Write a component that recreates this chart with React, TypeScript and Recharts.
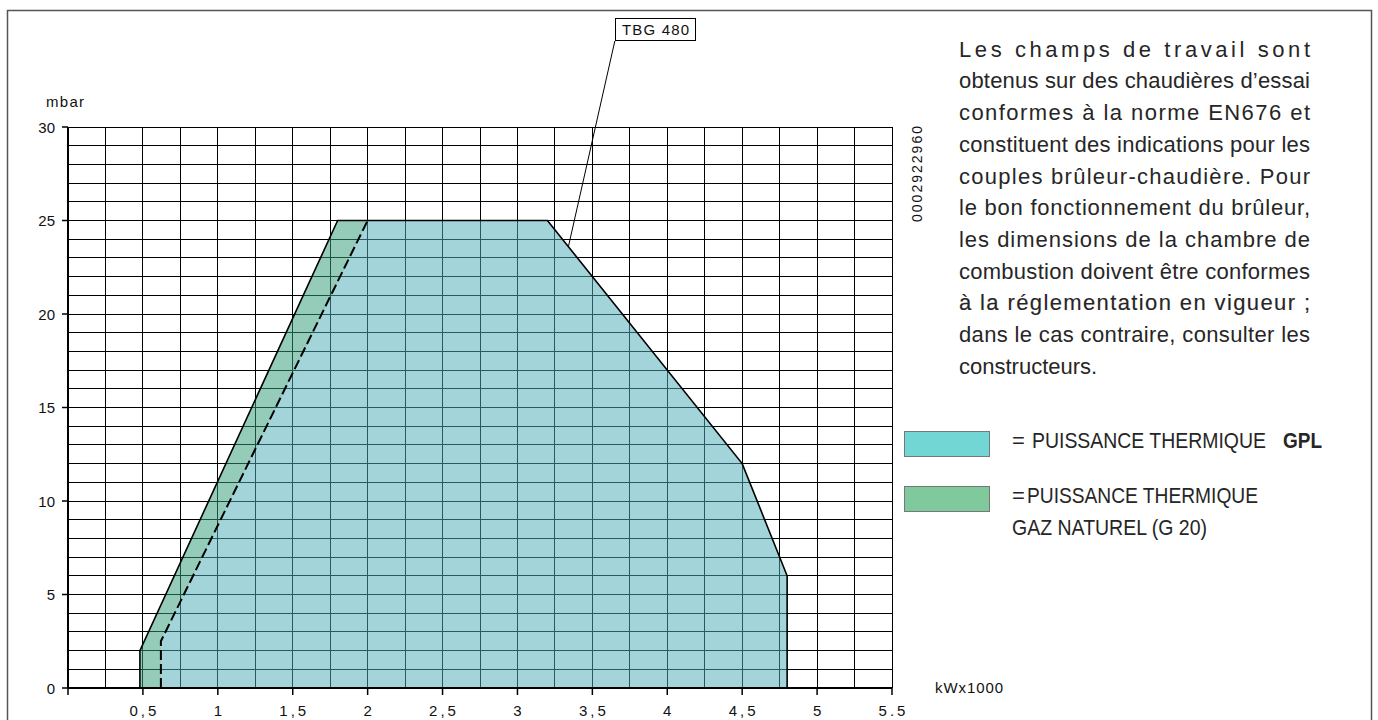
import React from 'react';
import {
    ComposedChart,
    Area,
    Line,
    XAxis,
    YAxis,
    CartesianGrid,
    ReferenceLine,
} from 'recharts';

// kW x 1000 / mbar
const xTicks = [0, 0.5, 1, 1.5, 2, 2.5, 3, 3.5, 4, 4.5, 5, 5.5];
const xTickLabels = ['', '0,5', '1', '1,5', '2', '2,5', '3', '3,5', '4', '4,5', '5', '5.5'];
const yTicks = [0, 5, 10, 15, 20, 25, 30];
const gridX = [0.25, 0.5, 0.75, 1, 1.25, 1.5, 1.75, 2, 2.25, 2.5, 2.75, 3, 3.25, 3.5, 3.75, 4, 4.25, 4.5, 4.75, 5, 5.25, 5.5];
const gridY = [1, 2, 3, 4, 5, 6, 7, 8, 9, 10, 11, 12, 13, 14, 15, 16, 17, 18, 19, 20, 21, 22, 23, 24, 25, 26, 27, 28, 29, 30];

// GPL field (cyan)
const gplX = [0.62, 0.62, 2.0, 3.2, 4.5, 4.8, 4.8];
const gplY = [0, 2.5, 25, 25, 12, 6, 0];

// natural gas G20 strip (green), between the left edge and the dashed line
const g20X = [0.48, 0.48, 0.62, 0.62, 1.8, 2.0];
const g20Low = [0, 0, 0, 2.5, 21.7, 25];
const g20High = [0, 2, 4.4, 4.4, 25, 25];

// outer solid contour
const outlineX = [0.48, 0.48, 1.8, 3.2, 4.5, 4.8, 4.8];
const outlineY = [0, 2, 25, 25, 12, 6, 0];

// TBG 480 leader
const leader = [{ x: 3.34, y: 23.6 }, { x: 3.65, y: 34.6 }];

const paragraph = [
    'Les champs de travail sont',
    'obtenus sur des chaudières d’essai',
    'conformes à la norme EN676 et',
    'constituent des indications pour les',
    'couples brûleur-chaudière. Pour',
    'le bon fonctionnement du brûleur,',
    'les dimensions de la chambre de',
    'combustion doivent être conformes',
    'à la réglementation en vigueur ;',
    'dans le cas contraire, consulter les',
    'constructeurs.',
];

const gplData = gplX.map((x, i) => ({ x, y: gplY[i] }));
const g20Data = g20X.map((x, i) => ({ x, r: [g20Low[i], g20High[i]] }));
const outlineData = outlineX.map((x, i) => ({ x, y: outlineY[i] }));
const dashedData = gplData.slice(0, 3);

const axisFont = "'Liberation Sans', Arial, sans-serif";
const textFont = "'Liberation Sans Narrow', 'Arial Narrow', 'Liberation Sans', sans-serif";

const XTick = (props: any) => {
    const { x, y, payload } = props;
    const label = xTickLabels[xTicks.indexOf(payload.value)] ?? '';
    return (
        <text x={x + 1.5} y={y + 19} textAnchor="middle" fontSize={15} fontFamily={axisFont} fill="#111" letterSpacing={3}>
            {label}
        </text>
    );
};

const YTick = (props: any) => {
    const { x, y, payload } = props;
    return (
        <text x={x - 5} y={y + 5.5} textAnchor="end" fontSize={15} fontFamily={axisFont} fill="#111">
            {payload.value}
        </text>
    );
};

// condensed legend text: squeezed horizontally to a given width
const Narrow = ({ x, y, w, sx = 0.85, bold = false, children }: any) => (
    <g transform={`translate(${x} ${y}) scale(${sx} 1)`}>
        <text x={0} y={0} fontSize={22} fontFamily={textFont} fontWeight={bold ? 'bold' : 'normal'} fill="#262626"
            textLength={w / sx} lengthAdjust="spacingAndGlyphs">
            {children}
        </text>
    </g>
);

export default function App() {
    return (
        <div style={{ position: 'absolute', left: 0, top: 0, width: 1378, height: 720, overflow: 'hidden', background: '#fff' }}>
            <ComposedChart width={1378} height={720} margin={{ top: 127, right: 486, bottom: 2, left: 8 }}>
                <CartesianGrid stroke="#000" strokeWidth={1} shapeRendering="crispEdges" horizontalValues={gridY} verticalValues={gridX} />
                <XAxis
                    type="number"
                    dataKey="x"
                    domain={[0, 5.5]}
                    ticks={xTicks}
                    interval={0}
                    height={30}
                    tickSize={7}
                    tickMargin={2}
                    tick={<XTick />}
                    axisLine={{ stroke: '#000', strokeWidth: 2 }}
                    tickLine={{ stroke: '#000', strokeWidth: 1.5 }}
                />
                <YAxis
                    type="number"
                    domain={[0, 30]}
                    ticks={yTicks}
                    interval={0}
                    width={60}
                    tickSize={6}
                    tickMargin={2}
                    tick={<YTick />}
                    axisLine={{ stroke: '#000', strokeWidth: 2 }}
                    tickLine={{ stroke: '#000', strokeWidth: 1.5 }}
                />
                <Area data={gplData} dataKey="y" type="linear" fill="#4dadb7" fillOpacity={0.52} stroke="none" dot={false} activeDot={false} isAnimationActive={false} />
                <Area data={g20Data} dataKey="r" type="linear" fill="#319d78" fillOpacity={0.52} stroke="none" dot={false} activeDot={false} isAnimationActive={false} />
                <Line data={outlineData} dataKey="y" type="linear" stroke="#000" strokeWidth={1.6} dot={false} activeDot={false} isAnimationActive={false} />
                <Line data={dashedData} dataKey="y" type="linear" stroke="#000" strokeWidth={2} strokeDasharray="10 4" dot={false} activeDot={false} isAnimationActive={false} />
                <ReferenceLine segment={leader} ifOverflow="visible" stroke="#000" strokeWidth={1} />
            </ComposedChart>

            <svg width={1378} height={720} style={{ position: 'absolute', left: 0, top: 0, pointerEvents: 'none' }}>
                <rect x={7.5} y={10.5} width={1364} height={760} fill="none" stroke="#555" strokeWidth={1.5} />
                <text x={46} y={107} fontSize={15} fontFamily={axisFont} fill="#111" textLength={38}>mbar</text>
                <text x={935} y={693} fontSize={15} fontFamily={axisFont} fill="#111" textLength={68}>kWx1000</text>
                <text x={0} y={0} fontSize={14} fontFamily={axisFont} fill="#111" textLength={96} textAnchor="middle"
                    transform="translate(922 174) rotate(-90)">0002922960</text>

                <rect x={615.5} y={18.5} width={80} height={22} fill="#fff" stroke="#000" strokeWidth={1} />
                <text x={622} y={35} fontSize={15} fontFamily={axisFont} fill="#111" textLength={67}>TBG 480</text>

                {paragraph.map((line, i) => (
                    <text key={i} x={959} y={56.7 + i * 31.7} fontSize={22} fontFamily={textFont} fill="#262626"
                        stroke={i === 8 ? '#262626' : 'none'} strokeWidth={i === 8 ? 0.15 : 0}
                        textLength={i < paragraph.length - 1 ? 351 : undefined} lengthAdjust="spacing">
                        {line}
                    </text>
                ))}

                <rect x={904.5} y={431.5} width={85} height={25} fill="#72d6d4" stroke="#777" strokeWidth={1} />
                <rect x={904.5} y={486.5} width={85} height={25} fill="#7fc99c" stroke="#777" strokeWidth={1} />
                <text x={1012} y={448} fontSize={22} fontFamily={textFont} fill="#262626">=</text>
                <Narrow x={1032} y={448} w={234}>PUISSANCE THERMIQUE</Narrow>
                <Narrow x={1283} y={448} w={39} bold>GPL</Narrow>
                <text x={1012} y={503} fontSize={22} fontFamily={textFont} fill="#262626">=</text>
                <Narrow x={1027} y={503} w={231}>PUISSANCE THERMIQUE</Narrow>
                <Narrow x={1012} y={535} w={195}>GAZ NATUREL (G 20)</Narrow>
            </svg>
        </div>
    );
}
